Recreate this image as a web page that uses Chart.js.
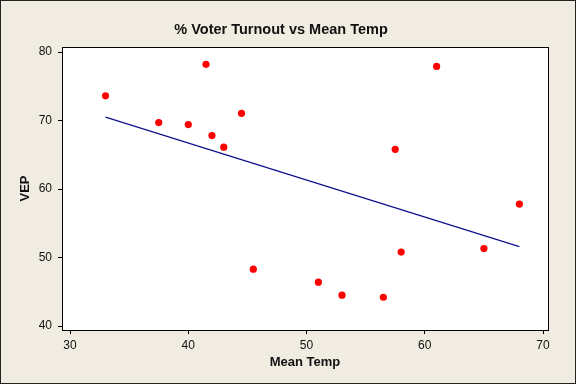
<!DOCTYPE html>
<html>
<head>
<meta charset="utf-8">
<script src="https://cdn.jsdelivr.net/npm/chart.js@4"></script>
<style>
  html, body { margin: 0; padding: 0; background: #f0ece2; }
  #wrap { width: 576px; height: 384px; }
</style>
</head>
<body>
<div id="wrap"><canvas id="c" width="576" height="384"></canvas></div>
<script>
// Mean temperature vs voter turnout (VEP)
const meanTemp = [33, 37.5, 40, 41.5, 42, 43, 44.5, 45.5, 51, 53, 56.5, 57.5, 58, 61, 65, 68];
const vep      = [73.6, 69.7, 69.4, 78.2, 67.8, 66.1, 71.05, 48.3, 46.4, 44.5, 44.2, 65.8, 50.8, 77.9, 51.3, 57.8];

// fitted regression line end points
const fitX = [33, 68];
const fitY = [70.5, 51.6];

const xTicks = [30, 40, 50, 60, 70];
const yTicks = [40, 50, 60, 70, 80];

const font = '"Liberation Sans", Arial, sans-serif';

// background, outer frame and the box round the plot
const frame = {
  id: 'frame',
  beforeDraw(chart) {
    const ctx = chart.ctx;
    ctx.save();
    ctx.fillStyle = '#f0ece2';
    ctx.fillRect(0, 0, chart.width, chart.height);
    const a = chart.chartArea;
    ctx.fillStyle = '#ffffff';
    ctx.fillRect(a.left, a.top, a.right - a.left, a.bottom - a.top);
    ctx.restore();
  },
  afterDraw(chart) {
    const ctx = chart.ctx;
    const a = chart.chartArea;
    ctx.save();
    ctx.strokeStyle = '#000';
    ctx.lineWidth = 1;
    ctx.strokeRect(Math.round(a.left) + 0.5, Math.round(a.top) + 0.5,
      Math.round(a.right - a.left), Math.round(a.bottom - a.top));
    ctx.strokeStyle = '#222';
    ctx.strokeRect(0.5, 0.5, chart.width - 1, chart.height - 1);
    ctx.restore();
  }
};

new Chart(document.getElementById('c'), {
  data: {
    datasets: [
      {
        type: 'scatter',
        data: meanTemp.map((x, i) => ({ x: x, y: vep[i] })),
        backgroundColor: '#ff0000',
        borderWidth: 0,
        pointRadius: 3.6
      },
      {
        type: 'line',
        data: fitX.map((x, i) => ({ x: x, y: fitY[i] })),
        borderColor: '#10108f',
        borderWidth: 1.2,
        pointRadius: 0,
        fill: false
      }
    ]
  },
  options: {
    responsive: false,
    animation: false,
    layout: { padding: { left: 14, right: 28, top: 0, bottom: 12 } },
    plugins: {
      legend: { display: false },
      tooltip: { enabled: false },
      title: {
        display: true,
        text: '% Voter Turnout vs Mean Temp',
        color: '#111',
        font: { family: font, size: 14.5, weight: 'bold' },
        padding: { top: 21, bottom: 8.6 }
      }
    },
    scales: {
      x: {
        type: 'linear',
        min: 29.32,
        max: 70.42,
        afterFit: s => { s.height = 42; },
        afterBuildTicks: s => { s.ticks = xTicks.map(v => ({ value: v })); },
        ticks: { includeBounds: false, color: '#111', padding: 4, font: { family: font, size: 12 } },
        grid: { drawOnChartArea: false, color: '#000', tickLength: 4 },
        border: { display: false },
        title: {
          display: true,
          text: 'Mean Temp',
          color: '#111',
          font: { family: font, size: 13, weight: 'bold' },
          padding: { top: 2, bottom: 2 }
        }
      },
      y: {
        type: 'linear',
        min: 39.42,
        max: 80.73,
        afterFit: s => { s.width = 48; },
        afterBuildTicks: s => { s.ticks = yTicks.map(v => ({ value: v })); },
        ticks: { includeBounds: false, color: '#111', padding: 6, font: { family: font, size: 12 } },
        grid: { drawOnChartArea: false, color: '#000', tickLength: 4 },
        border: { display: false },
        title: {
          display: true,
          text: 'VEP',
          color: '#111',
          font: { family: font, size: 13, weight: 'bold' },
          padding: { top: 4, bottom: 6 }
        }
      }
    }
  },
  plugins: [frame]
});
</script>
</body>
</html>
